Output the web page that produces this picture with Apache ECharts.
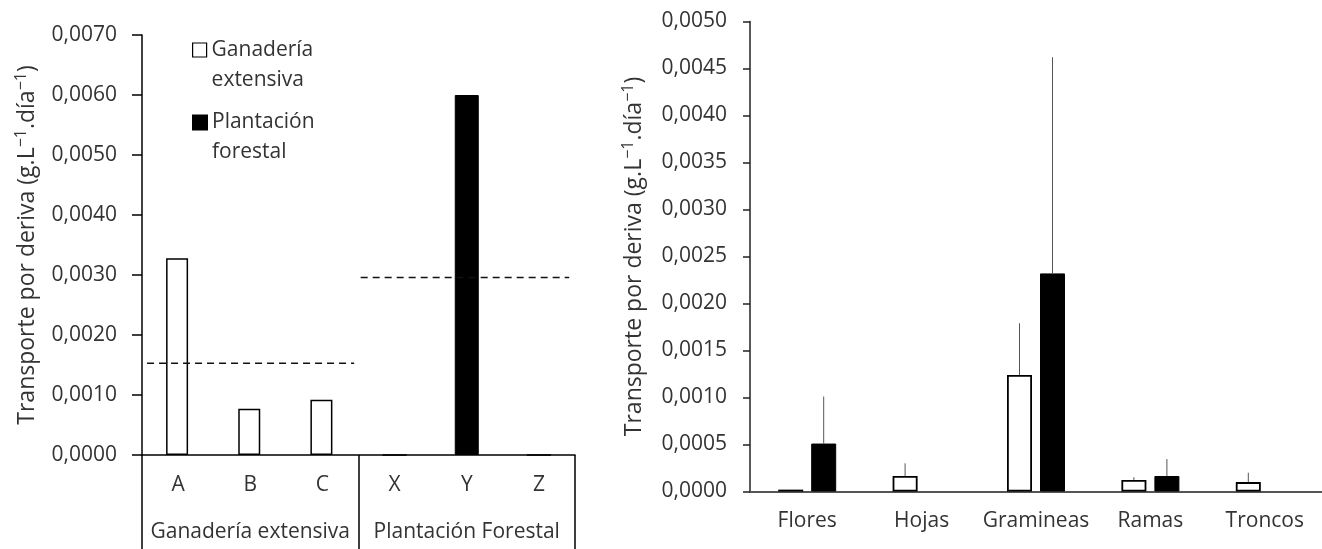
<!DOCTYPE html>
<html>
<head>
<meta charset="utf-8">
<script src="https://cdn.jsdelivr.net/npm/echarts@6/dist/echarts.min.js"></script>
<style>
html,body{margin:0;padding:0;background:#fff;}
#chart{width:1322px;height:549px;}
</style>
</head>
<body>
<div id="chart"></div>
<script>
// ---- Left chart data ----
const leftCats = ['A', 'B', 'C', 'X', 'Y', 'Z'];
const leftGroups = ['Ganadería extensiva', 'Plantación Forestal'];
const leftGanaderia = [0.00328, 0.00077, 0.00092, null, null, null];
const leftPlantacion = [null, null, null, 0, 0.0060, 0];
const leftGroupMeans = [0.00153, 0.00296];
const leftYTicks = [0, 0.001, 0.002, 0.003, 0.004, 0.005, 0.006, 0.007];

// ---- Right chart data ----
const rightCats = ['Flores', 'Hojas', 'Gramineas', 'Ramas', 'Troncos'];
const rightGanaderia = [0.00002, 0.000165, 0.00124, 0.000122, 0.000100];
const rightPlantacion = [0.00051, null, 0.00232, 0.000165, null];
const rightGanaderiaErr = [0, 0.000135, 0.00055, 0.00003, 0.0001];
const rightPlantacionErr = [0.0005, 0, 0.0023, 0.00018, 0];
const rightYTicks = [0, 0.0005, 0.001, 0.0015, 0.002, 0.0025, 0.003, 0.0035, 0.004, 0.0045, 0.005];

const seriesNames = ['Ganadería extensiva', 'Plantación forestal'];
const yTitleRich = '{n|Transporte por deriva (g.L}{s|−1}{n|.día}{s|−1}{n|)}';

const FONT = '"Open Sans", "Noto Sans", sans-serif';
const TXT = '#333';
const FS = 21;
const fmt = v => v.toFixed(4).replace('.', ',');

const RBAR = 25, RGAP = 8;

const chart = echarts.init(document.getElementById('chart'), null, {renderer: 'canvas'});

function errData(vals, errs, sign) {
  const out = [];
  vals.forEach((v, i) => {
    if (v != null && errs[i] > 0) out.push([i, v, errs[i], sign]);
  });
  return out;
}

const titleStyle = {
  fontFamily: FONT, fontSize: 23, color: TXT,
  rich: {
    n: {fontFamily: FONT, fontSize: 23, color: TXT, lineHeight: 28},
    s: {fontFamily: FONT, fontSize: 16, color: TXT, lineHeight: 28, verticalAlign: 'top', padding: [0, 0, 12, 0]}
  }
};

const legendText = {fontFamily: FONT, fontSize: FS, color: TXT, lineHeight: 30};

const option = {
  animation: false,
  backgroundColor: '#fff',
  textStyle: {fontFamily: FONT},
  grid: [
    {left: 142, right: 747, top: 35, bottom: 94},
    {left: 750, right: 0, top: 21.5, bottom: 57.5}
  ],
  legend: [
    {
      data: [seriesNames[0]], orient: 'vertical', left: 192, top: 5, padding: 0,
      icon: 'rect', itemWidth: 14, itemHeight: 14,
      formatter: n => '\n' + n.replace(' ', '\n'),
      textStyle: legendText,
      itemStyle: {borderWidth: 1.2, borderColor: '#000'}
    },
    {
      data: [seriesNames[1]], orient: 'vertical', left: 192, top: 77.5, padding: 0,
      icon: 'rect', itemWidth: 14, itemHeight: 14,
      formatter: n => '\n' + n.replace(' ', '\n'),
      textStyle: legendText
    }
  ],
  xAxis: [
    { // 0: left categories
      type: 'category', gridIndex: 0, data: leftCats,
      axisLine: {show: true, lineStyle: {color: '#000', width: 1.5}},
      axisTick: {show: false},
      axisLabel: {fontFamily: FONT, fontSize: FS, color: TXT, margin: 20, interval: 0}
    },
    { // 1: left groups
      type: 'category', gridIndex: 0, position: 'bottom', data: leftGroups,
      axisLine: {show: false},
      axisTick: {show: true, interval: 0, length: 96, lineStyle: {color: '#000', width: 1.5}},
      axisLabel: {fontFamily: FONT, fontSize: FS, color: TXT, margin: 67, interval: 0}
    },
    { // 2: hidden value axis for the mean lines
      type: 'value', gridIndex: 0, min: 0, max: leftCats.length, show: false
    },
    { // 3: right categories
      type: 'category', gridIndex: 1, data: rightCats,
      axisLine: {show: true, lineStyle: {color: '#555', width: 2}},
      axisTick: {show: false},
      axisLabel: {fontFamily: FONT, fontSize: FS, color: TXT, margin: 19, interval: 0}
    }
  ],
  yAxis: [
    {
      type: 'value', gridIndex: 0, min: leftYTicks[0], max: leftYTicks[leftYTicks.length - 1],
      interval: leftYTicks[1] - leftYTicks[0],
      splitLine: {show: false},
      axisLine: {show: true, lineStyle: {color: '#000', width: 1.5}},
      axisTick: {show: true, length: 10, lineStyle: {color: '#000', width: 1.5}},
      axisLabel: {fontFamily: FONT, fontSize: FS, color: TXT, margin: 25, formatter: fmt},
      name: yTitleRich, nameLocation: 'middle', nameRotate: 90, nameGap: 101,
      nameTextStyle: titleStyle
    },
    {
      type: 'value', gridIndex: 1, min: rightYTicks[0], max: rightYTicks[rightYTicks.length - 1],
      interval: rightYTicks[1] - rightYTicks[0],
      splitLine: {show: false},
      axisLine: {show: true, lineStyle: {color: '#222', width: 1.5}},
      axisTick: {show: true, length: 7, lineStyle: {color: '#222', width: 1.5}},
      axisLabel: {fontFamily: FONT, fontSize: FS, color: TXT, margin: 23, formatter: fmt},
      name: yTitleRich, nameLocation: 'middle', nameRotate: 90, nameGap: 102,
      nameTextStyle: titleStyle
    }
  ],
  series: [
    {
      name: seriesNames[0], type: 'bar', xAxisIndex: 0, yAxisIndex: 0,
      data: leftGanaderia, barWidth: 22, barGap: '-100%',
      itemStyle: {color: '#fff', borderColor: '#000', borderWidth: 1.5}
    },
    {
      name: seriesNames[1], type: 'bar', xAxisIndex: 0, yAxisIndex: 0,
      data: leftPlantacion, barWidth: 24, barGap: '-100%',
      itemStyle: {color: '#000', borderColor: '#000', borderWidth: 1}
    },
    {
      type: 'line', xAxisIndex: 2, yAxisIndex: 0, symbol: 'none', silent: true, z: 5,
      data: [[0.07, leftGroupMeans[0]], [2.94, leftGroupMeans[0]]],
      lineStyle: {color: '#111', width: 1.5, type: [7, 5]}
    },
    {
      type: 'line', xAxisIndex: 2, yAxisIndex: 0, symbol: 'none', silent: true, z: 5,
      data: [[3.03, leftGroupMeans[1]], [5.92, leftGroupMeans[1]]],
      lineStyle: {color: '#111', width: 1.5, type: [7, 5]}
    },
    {
      name: seriesNames[0], type: 'bar', xAxisIndex: 3, yAxisIndex: 1,
      data: rightGanaderia, barWidth: RBAR, barGap: (RGAP / RBAR * 100) + '%',
      itemStyle: {color: '#fff', borderColor: '#000', borderWidth: 1.8}
    },
    {
      name: seriesNames[1], type: 'bar', xAxisIndex: 3, yAxisIndex: 1,
      data: rightPlantacion, barWidth: RBAR, barGap: (RGAP / RBAR * 100) + '%',
      itemStyle: {color: '#000', borderColor: '#000', borderWidth: 1}
    },
    {
      type: 'custom', xAxisIndex: 3, yAxisIndex: 1, silent: true, z: 4,
      data: errData(rightGanaderia, rightGanaderiaErr, -1).concat(errData(rightPlantacion, rightPlantacionErr, 1)),
      encode: {x: 0, y: 1},
      renderItem: function (params, api) {
        const i = api.value(0), v = api.value(1), e = api.value(2), s = api.value(3);
        const p0 = api.coord([i, v]);
        const p1 = api.coord([i, v + e]);
        const dx = s * (RBAR + RGAP) / 2;
        return {
          type: 'line',
          shape: {x1: p0[0] + dx, y1: p0[1], x2: p1[0] + dx, y2: p1[1]},
          style: {stroke: '#555', lineWidth: 1}
        };
      }
    }
  ]
};
chart.setOption(option);
</script>
</body>
</html>
